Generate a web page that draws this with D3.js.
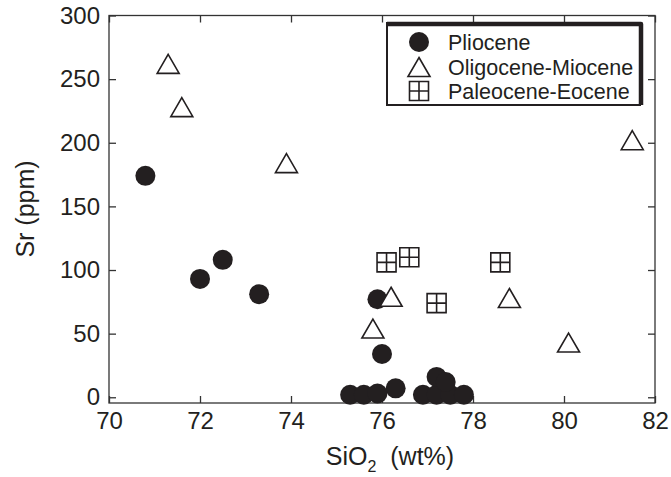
<!DOCTYPE html>
<html lang="en">
    <head>
        <meta charset="utf-8">
        <title>Sr vs SiO2</title>
        <script type="text/javascript" src="https://cdn.jsdelivr.net/npm/d3@7"></script>
        <style>
            body { margin: 0; background: #fff; }
            text { font-family: "Liberation Sans", Arial, sans-serif; fill: #231f20; }
        </style>
    </head>
    <body>
        <script type="text/javascript">

        var w = 671;
        var h = 477;
        var ink = "#231f20";

        // Pliocene
        var plioSiO2 = [70.8, 72.0, 72.5, 73.3, 75.9, 76.0, 75.3, 75.6, 75.9, 76.3, 76.9, 77.2, 77.5, 77.8, 77.2, 77.4];
        var plioSr   = [174,  93,   108,  81,   77,   34,   2,    2,    3,    7,    2,    2,    2,    2,    16,   12];
        // Oligocene-Miocene
        var oligSiO2 = [71.3, 71.6, 73.9, 75.8, 76.2, 78.8, 80.1, 81.5];
        var oligSr   = [262,  228,  184,  54,   79,   78,   43,   202];
        // Paleocene-Eocene
        var paleoSiO2 = [76.1, 76.6, 77.2, 78.6];
        var paleoSr   = [106,  110,  74,   106];

        var xTicks = [70, 72, 74, 76, 78, 80, 82];
        var yTicks = [0, 50, 100, 150, 200, 250, 300];
        var legendNames = ["Pliocene", "Oligocene-Miocene", "Paleocene-Eocene"];

        var x = d3.scaleLinear().domain([70, 82]).range([109, 655]);
        var y = d3.scaleLinear().domain([-4.5, 300]).range([403, 15.5]);

        var svg = d3.select("body")
            .append("svg")
            .attr("width", w)
            .attr("height", h);

        function pts(xs, ys) {
            return xs.map(function(v, i) { return [v, ys[i]]; });
        }

        var triPath = "M0,-9.5L11,9.5L-11,9.5Z";
        var sqPath = "M-9.5,-9.5H9.5V9.5H-9.5Z M0,-9.5V9.5 M-9.5,0H9.5";

        // axes (ticks pointing inward)
        function styleAxis(g) {
            g.select(".domain").remove();
            g.selectAll("line").attr("stroke", "#333").attr("stroke-width", 1.3);
            g.selectAll("text").attr("font-size", "24px").attr("fill", ink);
        }

        svg.append("g")
           .attr("transform", "translate(0," + y.range()[0] + ")")
           .call(d3.axisBottom(x).tickValues(xTicks).tickSizeInner(-7).tickSizeOuter(0).tickPadding(9).tickFormat(d3.format("d")))
           .call(styleAxis);

        svg.append("g")
           .attr("transform", "translate(" + x.range()[0] + ",0)")
           .call(d3.axisLeft(y).tickValues(yTicks).tickSizeInner(-7).tickSizeOuter(0).tickPadding(9).tickFormat(d3.format("d")))
           .call(styleAxis);

        svg.append("g")
           .attr("transform", "translate(0," + y.range()[1] + ")")
           .call(d3.axisTop(x).tickValues(xTicks).tickSizeInner(-7).tickSizeOuter(0).tickFormat(""))
           .call(styleAxis);

        svg.append("g")
           .attr("transform", "translate(" + x.range()[1] + ",0)")
           .call(d3.axisRight(y).tickValues(yTicks).tickSizeInner(-7).tickSizeOuter(0).tickFormat(""))
           .call(styleAxis);

        svg.append("rect")
           .attr("x", x.range()[0])
           .attr("y", y.range()[1])
           .attr("width", x.range()[1] - x.range()[0])
           .attr("height", y.range()[0] - y.range()[1])
           .attr("fill", "none")
           .attr("stroke", "#333")
           .attr("stroke-width", 1.3);

        // data
        svg.selectAll("circle.plio")
           .data(pts(plioSiO2, plioSr))
           .enter()
           .append("circle")
           .attr("class", "plio")
           .attr("cx", function(d) { return x(d[0]); })
           .attr("cy", function(d) { return y(d[1]); })
           .attr("r", 10)
           .attr("fill", ink);

        svg.selectAll("path.olig")
           .data(pts(oligSiO2, oligSr))
           .enter()
           .append("path")
           .attr("class", "olig")
           .attr("d", triPath)
           .attr("transform", function(d) { return "translate(" + x(d[0]) + "," + y(d[1]) + ")"; })
           .attr("fill", "#fff")
           .attr("stroke", ink)
           .attr("stroke-width", 1.6);

        svg.selectAll("path.paleo")
           .data(pts(paleoSiO2, paleoSr))
           .enter()
           .append("path")
           .attr("class", "paleo")
           .attr("d", sqPath)
           .attr("transform", function(d) { return "translate(" + x(d[0]) + "," + y(d[1]) + ")"; })
           .attr("fill", "#fff")
           .attr("stroke", ink)
           .attr("stroke-width", 1.6);

        // legend
        var lg = svg.append("g");
        lg.append("rect")
          .attr("x", 387).attr("y", 23).attr("width", 253).attr("height", 82)
          .attr("fill", "#fff").attr("stroke", ink).attr("stroke-width", 2);
        lg.append("path")
          .attr("d", "M387,24H641V105")
          .attr("fill", "none").attr("stroke", ink).attr("stroke-width", 4.5)
          .attr("stroke-linejoin", "round");

        var rows = [42, 67, 91];
        lg.append("circle").attr("cx", 419).attr("cy", rows[0]).attr("r", 10).attr("fill", ink);
        lg.append("path").attr("d", triPath).attr("transform", "translate(419," + rows[1] + ")")
          .attr("fill", "#fff").attr("stroke", ink).attr("stroke-width", 1.6);
        lg.append("path").attr("d", sqPath).attr("transform", "translate(419," + rows[2] + ")")
          .attr("fill", "#fff").attr("stroke", ink).attr("stroke-width", 1.6);

        lg.selectAll("text")
          .data(legendNames)
          .enter()
          .append("text")
          .attr("x", 448)
          .attr("y", function(d, i) { return rows[i]; })
          .attr("dy", "0.36em")
          .attr("font-size", "21.5px")
          .text(function(d) { return d; });

        // axis titles
        var xl = svg.append("text")
           .attr("x", 390)
           .attr("y", 465)
           .attr("text-anchor", "middle")
           .attr("font-size", "25px");
        xl.append("tspan").text("SiO");
        xl.append("tspan").attr("font-size", "16px").attr("dy", 7).text("2");
        xl.append("tspan").attr("dy", -7).text("\u00a0 (wt%)");

        svg.append("text")
           .attr("transform", "translate(34,209) rotate(-90)")
           .attr("text-anchor", "middle")
           .attr("font-size", "25px")
           .text("Sr (ppm)");
        </script>
    </body>
</html>
